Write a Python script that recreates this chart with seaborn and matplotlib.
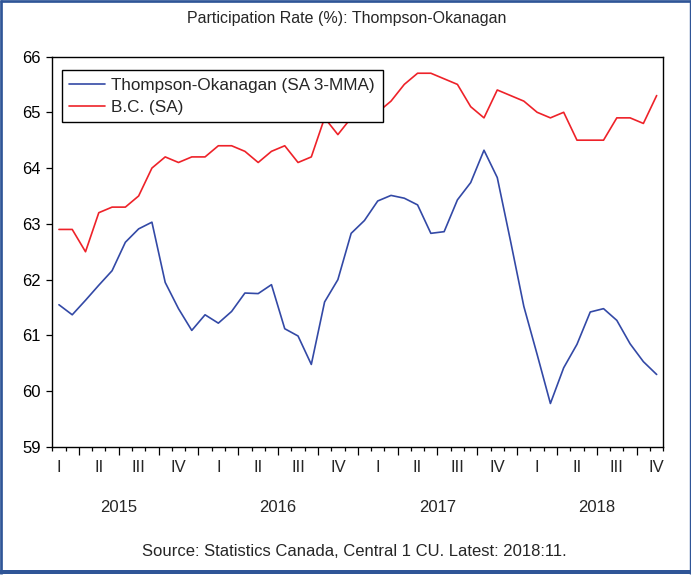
import numpy as np
import pandas as pd
import seaborn as sns
import matplotlib
matplotlib.use("Agg")
import matplotlib.pyplot as plt
from matplotlib.lines import Line2D
from matplotlib.ticker import FixedLocator
import matplotlib.transforms as mtransforms

# ---- data (monthly, Feb 2015 .. Nov 2018) ----
months = pd.period_range("2015-02", "2018-11", freq="M").astype(str).tolist()
thompson_okanagan = [61.55, 61.37, 61.63, 61.90, 62.16, 62.67, 62.91, 63.03, 61.95, 61.48,
                     61.09, 61.37, 61.22, 61.43, 61.76, 61.75, 61.91, 61.12, 60.99, 60.48,
                     61.60, 62.00, 62.83, 63.06, 63.41, 63.51, 63.46, 63.34, 62.83, 62.86,
                     63.43, 63.74, 64.32, 63.83, 62.69, 61.52, 60.66, 59.78, 60.42, 60.84,
                     61.42, 61.48, 61.27, 60.85, 60.53, 60.30]
bc = [62.9, 62.9, 62.5, 63.2, 63.3, 63.3, 63.5, 64.0, 64.2, 64.1,
      64.2, 64.2, 64.4, 64.4, 64.3, 64.1, 64.3, 64.4, 64.1, 64.2,
      64.9, 64.6, 64.9, 65.0, 65.0, 65.2, 65.5, 65.7, 65.7, 65.6,
      65.5, 65.1, 64.9, 65.4, 65.3, 65.2, 65.0, 64.9, 65.0, 64.5,
      64.5, 64.5, 64.9, 64.9, 64.8, 65.3]
series_names = ["Thompson-Okanagan (SA 3-MMA)", "B.C. (SA)"]
quarter_labels = ["I", "II", "III", "IV"]
year_labels = ["2015", "2016", "2017", "2018"]
yticks = [59, 60, 61, 62, 63, 64, 65, 66]
title = "Participation Rate (%): Thompson-Okanagan"
source = "Source: Statistics Canada, Central 1 CU. Latest: 2018:11."

n = len(months)
idx = np.arange(n)
df = pd.DataFrame({
    "t": np.concatenate([idx, idx]),
    "value": thompson_okanagan + bc,
    "series": [series_names[0]] * n + [series_names[1]] * n,
})

sns.set_style("ticks")
plt.rcParams["font.family"] = ["Liberation Sans", "DejaVu Sans"]

W, H = 691, 579
fig = plt.figure(figsize=(W / 100, H / 100), dpi=100)
# axes rectangle in pixels
L, R, T, B = 52.3, 663.3, 56.5, 447.0
ax = fig.add_axes([L / W, 1 - B / H, (R - L) / W, (B - T) / H])

palette = {series_names[0]: "#3349A6", series_names[1]: "#EE2229"}
sns.lineplot(data=df, x="t", y="value", hue="series", palette=palette,
             linewidth=1.2, ax=ax, legend=True)

ax.set_xlim(-0.5, n - 0.5)
ax.set_ylim(59, 66)
ax.set_yticks(yticks)
ax.set_yticklabels([str(v) for v in yticks], fontsize=12)
ax.set_xlabel("")
ax.set_ylabel("")

# month boundary ticks (minor) and quarter boundary ticks (major)
minor_pos = [i + 0.5 for i in range(-1, n)]
major_pos = [i + 0.5 for i in range(n - 1) if (i + 2) % 3 == 0]
ax.xaxis.set_major_locator(FixedLocator(major_pos))
ax.xaxis.set_minor_locator(FixedLocator(minor_pos))
ax.set_xticklabels([])
ax.tick_params(axis="x", which="major", length=5.5, width=0.9, direction="out", color="black")
ax.tick_params(axis="x", which="minor", length=2.8, width=0.9, direction="out", color="black")
ax.tick_params(axis="y", which="major", length=4.3, width=0.9, direction="out", pad=4, color="black",
               labelcolor="black")
for s in ax.spines.values():
    s.set_visible(True)
    s.set_color("black")
    s.set_linewidth(1.0)

# quarter and year labels
trans = mtransforms.blended_transform_factory(ax.transData, ax.transAxes)
for i, m in enumerate(months):
    mon = int(m[5:7])
    if mon in (2, 5, 8, 11):
        ax.text(i, -20 / (B - T), quarter_labels[(mon - 2) // 3], transform=trans,
                ha="center", va="center", fontsize=12)
for k, y in enumerate(year_labels):
    pos = 4.5 + 12 * k
    ax.text(pos, -60 / (B - T), y, transform=trans, ha="center", va="center", fontsize=12)

# legend
leg = ax.legend(loc="upper left", bbox_to_anchor=((61.7 - L) / (R - L), (B - 70) / (B - T)),
                borderaxespad=0, frameon=True, fancybox=False, fontsize=12.3,
                handlelength=2.1, handletextpad=0.35, borderpad=0.45, labelspacing=0.4)
leg.get_frame().set_edgecolor("black")
leg.get_frame().set_linewidth(1.0)
leg.get_frame().set_facecolor("white")
leg.get_frame().set_alpha(1)
for line in leg.get_lines():
    line.set_linewidth(1.2)

fig.text(346.3 / W, 1 - 18 / H, title, ha="center", va="center", fontsize=11.5)
fig.text(354 / W, 1 - 551 / H, source, ha="center", va="center", fontsize=12)

# figure border
bcol = "#2F5597"
def px_line(x0, y0, x1, y1, lw):
    fig.add_artist(Line2D([x0 / W, x1 / W], [1 - y0 / H, 1 - y1 / H],
                          transform=fig.transFigure, color=bcol, linewidth=lw * 0.72,
                          solid_capstyle="butt"))
px_line(1.3, 0, 1.3, 574, 2.7)
px_line(0, 1.3, 691, 1.3, 2.7)
px_line(689.5, 0, 689.5, 574, 1.4)
px_line(0, 572, 691, 572, 4)

fig.savefig("out.png", dpi=100)
